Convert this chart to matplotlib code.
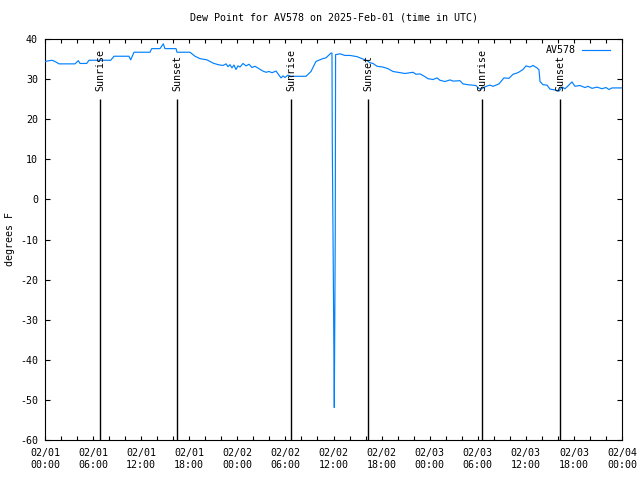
import matplotlib
matplotlib.use("Agg")
import matplotlib.pyplot as plt
from matplotlib.ticker import MultipleLocator, FixedLocator

plt.rcParams['font.family'] = ['DejaVu Sans Mono']

title = "Dew Point for AV578 on 2025-Feb-01 (time in UTC)"
series_name = "AV578"
ylabel = "degrees F"

# hours since 2025-02-01 00:00 UTC
hours = [0.00, 0.87, 1.25, 1.75, 3.74, 4.16, 4.37, 5.20, 5.49, 8.20, 8.61, 10.48, 10.69, 11.11,
         12.35, 13.10, 13.31, 14.35, 14.76, 14.97, 16.35, 16.47, 18.09, 18.72, 19.34, 20.21,
         20.96, 21.59, 22.21, 22.59, 22.84, 23.08, 23.33, 23.58, 23.83, 24.08, 24.33, 24.71,
         25.08, 25.46, 25.83, 26.20, 26.70, 27.20, 27.58, 27.95, 28.33, 28.83, 29.20, 29.45,
         29.70, 29.95, 30.32, 30.70, 30.95, 32.57, 33.19, 33.81, 34.65, 35.06, 35.48, 35.69,
         35.81, 35.85, 35.94, 36.02, 36.10, 36.22, 36.26, 36.81, 37.43, 38.06, 38.93, 39.68,
         40.18, 40.55, 40.93, 41.43, 42.17, 42.80, 43.42, 44.30, 44.92, 45.55, 45.92, 46.29,
         46.79, 47.42, 47.79, 48.42, 48.91, 49.29, 49.91, 50.54, 50.91, 51.78, 52.16, 52.78,
         53.28, 53.78, 54.16, 54.41, 55.03, 55.53, 55.90, 56.65, 57.27, 57.90, 58.40, 59.02,
         59.65, 60.02, 60.52, 60.89, 61.39, 61.64, 61.77, 62.14, 62.64, 63.02, 63.64, 64.14,
         64.51, 64.89, 65.26, 65.76, 66.13, 66.76, 67.38, 67.76, 68.26, 68.88, 69.50, 70.00,
         70.38, 70.75, 71.38, 72.00]
dewpoint = [34.4, 34.7, 34.4, 33.8, 33.8, 34.6, 33.9, 33.9, 34.7, 34.7, 35.7, 35.7, 34.8, 36.7,
            36.7, 36.7, 37.6, 37.6, 38.8, 37.6, 37.6, 36.7, 36.7, 35.7, 35.1, 34.8,
            34.0, 33.6, 33.4, 33.8, 33.1, 33.6, 32.8, 33.5, 32.4, 33.3, 33.0, 33.9,
            33.3, 33.7, 32.9, 33.2, 32.6, 32.0, 31.7, 31.9, 31.6, 32.0, 31.0, 30.3,
            30.8, 30.4, 31.0, 30.6, 30.7, 30.7, 31.9, 34.4, 35.1, 35.3, 36.1, 36.5,
            36.5, 14.1, -8.0, -29.7, -51.9, -8.0, 36.1, 36.3, 35.9, 35.9, 35.6, 35.0,
            34.6, 34.1, 33.9, 33.2, 33.0, 32.6, 31.9, 31.6, 31.4, 31.6, 31.7, 31.2,
            31.3, 30.6, 30.1, 29.9, 30.3, 29.7, 29.4, 29.8, 29.5, 29.6, 28.8, 28.6,
            28.5, 28.4, 27.6, 27.5, 28.2, 28.5, 28.2, 28.8, 30.3, 30.2, 31.2, 31.6,
            32.4, 33.3, 33.0, 33.4, 32.8, 32.3, 29.4, 28.6, 28.5, 27.5, 27.3, 27.0,
            28.0, 27.6, 28.3, 29.3, 28.2, 28.4, 27.9, 28.2, 27.7, 28.0, 27.6, 27.9,
            27.4, 27.8, 27.8, 27.8]

event_hours = [6.86, 16.47, 30.70, 40.30, 54.53, 64.26]
event_labels = ["Sunrise", "Sunset", "Sunrise", "Sunset", "Sunrise", "Sunset"]
event_line_top = 25
event_label_y = 27

xtick_hours = [0, 6, 12, 18, 24, 30, 36, 42, 48, 54, 60, 66, 72]
xtick_labels = ["02/01\n00:00", "02/01\n06:00", "02/01\n12:00", "02/01\n18:00",
                "02/02\n00:00", "02/02\n06:00", "02/02\n12:00", "02/02\n18:00",
                "02/03\n00:00", "02/03\n06:00", "02/03\n12:00", "02/03\n18:00",
                "02/04\n00:00"]
yticks = [-60, -50, -40, -30, -20, -10, 0, 10, 20, 30, 40]

fs = 7.2
fig = plt.figure(figsize=(6.4, 4.8), dpi=100)
ax = fig.add_axes([45/640, 1-440/480, (622-45)/640, (440-39)/480])

ax.plot(hours, dewpoint, color='#0080ff', lw=0.85, label=series_name, zorder=3)

for h, lab in zip(event_hours, event_labels):
    ax.vlines(h, -60, event_line_top, color='black', lw=1.0, zorder=2)
    ax.text(h, event_label_y, lab, rotation=90, ha='center', va='bottom',
            fontsize=fs, color='black', zorder=4)

ax.set_xlim(0, 72)
ax.set_ylim(-60, 40)
ax.xaxis.set_major_locator(FixedLocator(xtick_hours))
ax.set_xticklabels(xtick_labels, fontsize=fs, linespacing=1.25)
ax.xaxis.set_minor_locator(MultipleLocator(2))
ax.set_yticks(yticks)
ax.set_yticklabels([str(v) for v in yticks], fontsize=fs)

ax.tick_params(axis='both', which='both', direction='in', top=True, right=True,
               width=0.8, color='black')
ax.tick_params(axis='x', which='major', length=3.2, pad=6)
ax.tick_params(axis='x', which='minor', length=2.6)
ax.tick_params(axis='y', which='major', length=3.8, pad=5)
for s in ax.spines.values():
    s.set_linewidth(0.8)

ax.set_ylabel(ylabel, fontsize=fs)
ax.yaxis.set_label_coords(-0.052, 0.5)
ax.set_title(title, fontsize=fs, pad=13)

leg = ax.legend(loc='upper right', bbox_to_anchor=(0.986, 0.995), frameon=False,
                markerfirst=False, fontsize=fs, handlelength=2.8, borderaxespad=0.0,
                handletextpad=0.6)

fig.savefig("out.png", dpi=100)
